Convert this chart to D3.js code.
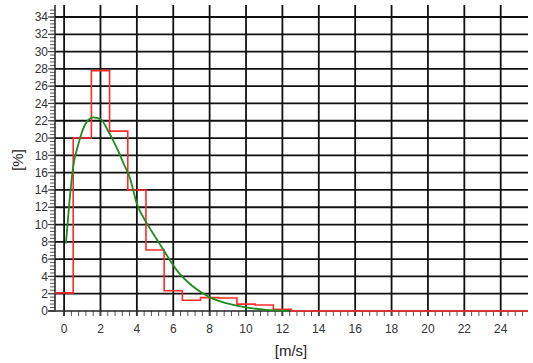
<!DOCTYPE html>
<html>
<head>
<meta charset="utf-8">
<script src="https://cdn.jsdelivr.net/npm/d3@7"></script>
<style>
  html, body { margin: 0; padding: 0; background: #fff; }
  svg { display: block; font-family: "Liberation Sans", Arial, sans-serif; }
</style>
</head>
<body>
<svg id="chart" width="533" height="363"></svg>
<script>
// Histogram bins (width 1 m/s, centred on integers) and their frequency [%]
const binCenters = [0,1,2,3,4,5,6,7,8,9,10,11,12,13,14,15,16,17,18,19,20,21,22,23,24,25];
const binValues  = [2.1,20.0,27.8,20.8,14.0,7.05,2.35,1.25,1.55,1.5,0.8,0.7,0.2,0,0,0,0,0,0,0,0,0,0,0,0,0];

// Fitted distribution curve
const curveSpeed   = [0.1,0.3,0.5,0.8,1.0,1.25,1.6,2.0,2.45,2.7,3.0,3.3,3.6,4.0,4.5,5.0,5.6,6.2,7.1,8.0,8.9,10.0,11.1,12.3];
const curveDensity = [7.8,12.8,16.7,19.4,20.8,21.9,22.4,22.2,20.7,19.7,18.4,16.9,15.5,12.4,10.3,8.6,6.6,4.7,2.8,1.6,0.9,0.43,0.12,0.0];

// Axis ticks
const xTicks = [0,2,4,6,8,10,12,14,16,18,20,22,24];
const yTicks = [0,2,4,6,8,10,12,14,16,18,20,22,24,26,28,30,32,34];
const xLabel = "[m/s]";
const yLabel = "[%]";

(function () {
const svg = d3.select("#chart");
const mLeft = 55, mRight = 528, mBottom = 311, mTop = 5;

const x = d3.scaleLinear().domain([-0.5, 25.5]).range([mLeft, mRight]);
const y = d3.scaleLinear().domain([0, 34]).range([mBottom, 17]);

// Grid
const grid = svg.append("g");
grid.append("g").selectAll("line").data(yTicks.slice(1)).join("line")
  .attr("x1", mLeft).attr("x2", mRight)
  .attr("y1", d => y(d)).attr("y2", d => y(d))
  .attr("stroke", "#111").attr("stroke-width", 1.8);
grid.append("g").selectAll("line").data(xTicks).join("line")
  .attr("x1", d => x(d)).attr("x2", d => x(d))
  .attr("y1", mTop).attr("y2", mBottom + 5)
  .attr("stroke", "#111").attr("stroke-width", 1.8);

// Minor ticks
const yMinor = d3.range(0, 35.2, 0.4);
svg.append("g").selectAll("line").data(yMinor).join("line")
  .attr("x1", mLeft - 5).attr("x2", mLeft)
  .attr("y1", d => y(d)).attr("y2", d => y(d))
  .attr("stroke", "#555").attr("stroke-width", 1);
const xMinor = d3.range(0, 25.5, 0.4);
svg.append("g").selectAll("line").data(xMinor).join("line")
  .attr("x1", d => x(d)).attr("x2", d => x(d))
  .attr("y1", mBottom).attr("y2", mBottom + 5)
  .attr("stroke", "#555").attr("stroke-width", 1);

// Axes lines
svg.append("line").attr("x1", mLeft).attr("x2", mLeft).attr("y1", mTop).attr("y2", mBottom)
  .attr("stroke", "#222").attr("stroke-width", 1.5);
svg.append("line").attr("x1", mLeft - 7).attr("x2", mRight).attr("y1", mBottom).attr("y2", mBottom)
  .attr("stroke", "#222").attr("stroke-width", 1.5);

// Major y ticks
svg.append("g").selectAll("line").data(yTicks).join("line")
  .attr("x1", mLeft - 7).attr("x2", mLeft)
  .attr("y1", d => y(d)).attr("y2", d => y(d))
  .attr("stroke", "#444").attr("stroke-width", 1.2);

// Tick labels
svg.append("g").selectAll("text").data(yTicks).join("text")
  .attr("x", 48).attr("y", d => y(d)).attr("dy", "0.35em")
  .attr("text-anchor", "end").attr("font-size", 12).attr("fill", "#333")
  .text(d => d);
svg.append("g").selectAll("text").data(xTicks).join("text")
  .attr("x", d => x(d)).attr("y", 329).attr("dy", "0.35em")
  .attr("text-anchor", "middle").attr("font-size", 12).attr("fill", "#333")
  .text(d => d);

// Axis titles
svg.append("text").attr("x", 291).attr("y", 351).attr("dy", "0.35em")
  .attr("text-anchor", "middle").attr("font-size", 15).attr("fill", "#222").text(xLabel);
svg.append("text").attr("transform", "translate(18,160) rotate(-90)").attr("dy", "0.35em")
  .attr("text-anchor", "middle").attr("font-size", 15).attr("fill", "#222").text(yLabel);

// Histogram step line
const stepPts = [];
binCenters.forEach((c, i) => {
  stepPts.push([c - 0.5, binValues[i]]);
  stepPts.push([c + 0.5, binValues[i]]);
});
svg.append("path").datum(stepPts)
  .attr("d", d3.line().x(d => x(d[0])).y(d => y(d[1])))
  .attr("fill", "none").attr("stroke", "#ff2a2a").attr("stroke-width", 1.6);

// Fitted curve
svg.append("path").datum(curveSpeed.map((s, i) => [s, curveDensity[i]]))
  .attr("d", d3.line().x(d => x(d[0])).y(d => y(d[1])).curve(d3.curveMonotoneX))
  .attr("fill", "none").attr("stroke", "#1e8c1e").attr("stroke-width", 1.8);
})();
</script>
</body>
</html>
